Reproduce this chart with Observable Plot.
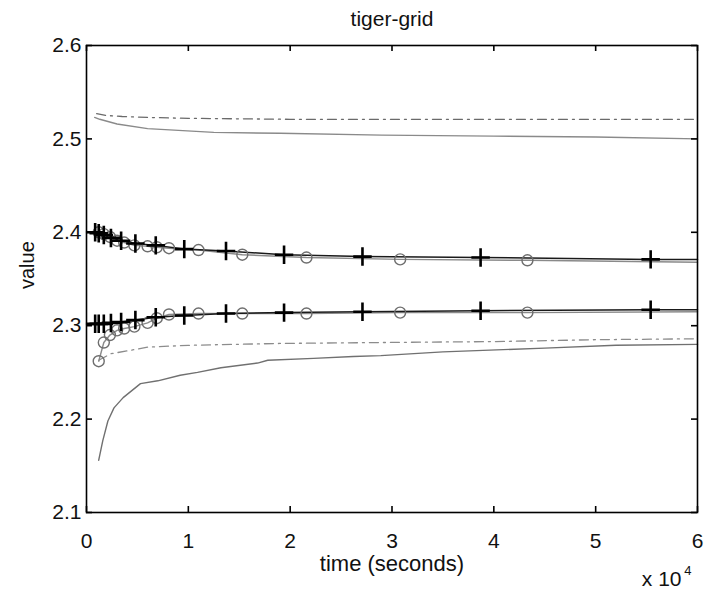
<!DOCTYPE html>
<html><head><meta charset="utf-8">
<script src="https://cdn.jsdelivr.net/npm/d3@7"></script>
<script src="https://cdn.jsdelivr.net/npm/@observablehq/plot@0.6"></script>
<style>body{margin:0;background:#fff;} svg{display:block}</style>
</head><body><div id="chart"></div>
<script>
const title = "tiger-grid";
const xLabel = "time (seconds)";
const yLabel = "value";
const xExpBase = "x 10";
const xExp = "4";
const xTicks = [0, 1, 2, 3, 4, 5, 6];           // time in units of 10^4 s
const yTicks = [2.1, 2.2, 2.3, 2.4, 2.5, 2.6];

// circle-marked series (grey)
const circleT     = [0.12, 0.17, 0.23, 0.30, 0.37, 0.47, 0.60, 0.69, 0.81, 1.10, 1.53, 2.16, 3.08, 4.33, 6.00];
const circleUpper = [2.400, 2.398, 2.395, 2.391, 2.389, 2.386, 2.385, 2.384, 2.383, 2.381, 2.376, 2.373, 2.371, 2.370, 2.368];
const circleLower = [2.262, 2.282, 2.290, 2.295, 2.297, 2.299, 2.303, 2.308, 2.312, 2.313, 2.313, 2.313, 2.314, 2.314, 2.315];
const circleShown = 14; // markers on the first 14 points

// plus-marked series (black)
const plusT     = [0.085, 0.12, 0.17, 0.24, 0.34, 0.48, 0.68, 0.96, 1.37, 1.94, 2.71, 3.87, 5.54, 6.00];
const plusUpper = [2.400, 2.399, 2.397, 2.394, 2.391, 2.388, 2.386, 2.382, 2.380, 2.376, 2.374, 2.373, 2.371, 2.371];
const plusLower = [2.302, 2.302, 2.302, 2.303, 2.304, 2.306, 2.309, 2.311, 2.313, 2.314, 2.315, 2.316, 2.317, 2.317];
const plusShown = 13;

// upper bound lines
const upDashT = [0.10, 0.20, 0.35, 0.60, 1.00, 2.00, 3.00, 4.00, 5.00, 6.00];
const upDashV = [2.527, 2.525, 2.524, 2.523, 2.522, 2.521, 2.521, 2.521, 2.521, 2.521];
const upSolidT = [0.08, 0.13, 0.30, 0.60, 1.25, 1.90, 2.90, 4.00, 5.00, 6.00];
const upSolidV = [2.523, 2.521, 2.516, 2.511, 2.507, 2.506, 2.504, 2.503, 2.502, 2.500];

// lower bound lines
const loDashT = [0.12, 0.24, 0.40, 0.60, 1.00, 1.90, 2.90, 4.00, 5.00, 6.00];
const loDashV = [2.263, 2.270, 2.273, 2.277, 2.279, 2.281, 2.282, 2.283, 2.285, 2.286];
const loSolidT = [0.12, 0.16, 0.21, 0.27, 0.36, 0.53, 0.70, 0.92, 1.09, 1.32, 1.68, 1.78, 2.23, 2.62, 2.89, 3.50, 4.50, 5.20, 6.00];
const loSolidV = [2.156, 2.177, 2.198, 2.212, 2.223, 2.238, 2.241, 2.247, 2.250, 2.255, 2.260, 2.263, 2.265, 2.267, 2.268, 2.272, 2.276, 2.279, 2.280];

const zip = (t, v) => t.map((x, i) => ({x, y: v[i]}));
const grey = "#8a8a8a", dark = "#1a1a1a", dashGrey = "#6a6a6a";
const font = "Liberation Sans, Arial, sans-serif";

const W = 713, H = 597, ML = 86, MR = 16, MT = 45, MB = 85, TL = 6;
const frameW = W - ML - MR, frameH = H - MT - MB;

const chart = Plot.plot({
  width: W, height: H,
  marginLeft: ML, marginRight: MR, marginTop: MT, marginBottom: MB,
  style: {fontFamily: font, background: "#fff", color: "#111"},
  x: {domain: [0, 6]},
  y: {domain: [2.1, 2.6]},
  marks: [
    Plot.line(zip(upDashT, upDashV), {x: "x", y: "y", stroke: dashGrey, strokeWidth: 1.3, strokeDasharray: "9,5,2,5"}),
    Plot.line(zip(upSolidT, upSolidV), {x: "x", y: "y", stroke: grey, strokeWidth: 1.4}),
    Plot.line(zip(loDashT, loDashV), {x: "x", y: "y", stroke: "#8c8c8c", strokeWidth: 1.3, strokeDasharray: "9,5,2,5"}),
    Plot.line(zip(loSolidT, loSolidV), {x: "x", y: "y", stroke: "#707070", strokeWidth: 1.4}),
    Plot.line(zip(circleT, circleUpper), {x: "x", y: "y", stroke: grey, strokeWidth: 1.4}),
    Plot.line(zip(circleT, circleLower), {x: "x", y: "y", stroke: grey, strokeWidth: 1.4}),
    Plot.line(zip(plusT, plusUpper), {x: "x", y: "y", stroke: dark, strokeWidth: 1.5}),
    Plot.line(zip(plusT, plusLower), {x: "x", y: "y", stroke: dark, strokeWidth: 1.5}),
    Plot.dot(zip(circleT, circleUpper).slice(0, circleShown), {x: "x", y: "y", r: 5.5, stroke: "#6e6e6e", strokeWidth: 1.4, fill: "none"}),
    Plot.dot(zip(circleT, circleLower).slice(0, circleShown), {x: "x", y: "y", r: 5.5, stroke: "#6e6e6e", strokeWidth: 1.4, fill: "none"}),
    Plot.dot(zip(plusT, plusUpper).slice(0, plusShown), {x: "x", y: "y", symbol: "plus", r: 6, stroke: "#000", strokeWidth: 2.6}),
    Plot.dot(zip(plusT, plusLower).slice(0, plusShown), {x: "x", y: "y", symbol: "plus", r: 6, stroke: "#000", strokeWidth: 2.6}),
    Plot.frame({stroke: "#000", strokeWidth: 1.6}),
    // inward ticks on all four sides
    Plot.tickX(xTicks, {x: d => d, insetTop: frameH - TL, stroke: "#000", strokeWidth: 1.6}),
    Plot.tickX(xTicks, {x: d => d, insetBottom: frameH - TL, stroke: "#000", strokeWidth: 1.6}),
    Plot.tickY(yTicks, {y: d => d, insetRight: frameW - TL, stroke: "#000", strokeWidth: 1.6}),
    Plot.tickY(yTicks, {y: d => d, insetLeft: frameW - TL, stroke: "#000", strokeWidth: 1.6}),
    Plot.axisX({anchor: "bottom", ticks: xTicks, tickSize: 0, tickPadding: 21, tickFormat: d3.format("d"), fontSize: 21, label: null}),
    Plot.axisY({anchor: "left", ticks: yTicks, tickSize: 0, tickPadding: 5, tickFormat: d3.format(".1f"), fontSize: 21, label: null}),
    Plot.text([title], {text: d => d, frameAnchor: "top", dy: -34, fontSize: 21, fill: "#111"}),
    Plot.text([xLabel], {text: d => d, frameAnchor: "bottom", dy: 58, fontSize: 22, fill: "#111"}),
    Plot.text([yLabel], {text: d => d, frameAnchor: "left", dx: -59, dy: 10, rotate: -90, fontSize: 20, fill: "#111"}),
    Plot.text([xExpBase], {text: d => d, frameAnchor: "bottom-right", dx: -16, dy: 73, textAnchor: "end", fontSize: 21, fill: "#111"}),
    Plot.text([xExp], {text: d => d, frameAnchor: "bottom-right", dx: -6, dy: 62, textAnchor: "end", fontSize: 13, fill: "#111"})
  ]
});
document.getElementById("chart").appendChild(chart);
</script>
</body></html>
